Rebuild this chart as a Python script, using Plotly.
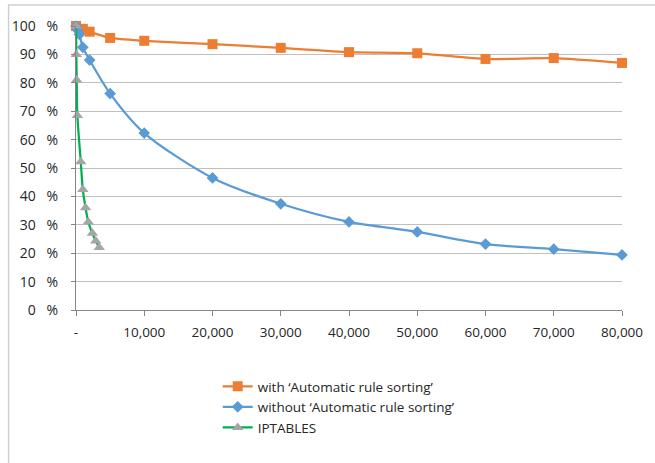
import plotly.graph_objects as go

# ---- data ----
with_x = [0, 1000, 2000, 5000, 10000, 20000, 30000, 40000, 50000, 60000, 70000, 80000]
with_y = [100, 99, 98, 95.8, 94.8, 93.6, 92.3, 90.8, 90.4, 88.4, 88.7, 87.0]

without_x = [0, 250, 500, 1000, 2000, 5000, 10000, 20000, 30000, 40000, 50000, 60000, 70000, 80000]
without_y = [100, 98.5, 97, 92.5, 88, 76.2, 62.3, 46.5, 37.4, 31, 27.5, 23.2, 21.4, 19.4]

ipt_x = [0, 50, 100, 200, 700, 1000, 1400, 1800, 2400, 2900, 3400]
ipt_y = [100, 90, 81, 68.5, 52.2, 42.4, 36, 31, 27, 24.3, 22]

y_ticks = [0, 10, 20, 30, 40, 50, 60, 70, 80, 90, 100]
x_ticks = [0, 10000, 20000, 30000, 40000, 50000, 60000, 70000, 80000]
x_tick_text = ["-", "10,000", "20,000", "30,000", "40,000", "50,000", "60,000", "70,000", "80,000"]

names = ["with \u2018Automatic rule sorting\u2019",
         "without \u2018Automatic rule sorting\u2019",
         "IPTABLES"]

FIG_SP = "\u2007"
y_tick_text = [f"{v:>3}".replace(" ", FIG_SP) + "\u00a0\u00a0\u00a0%" for v in y_ticks]

font = "Open Sans"
txt_col = "#262626"

fig = go.Figure()
fig.add_trace(go.Scatter(
    x=with_x, y=with_y, name=names[0], mode="lines+markers", legendgroup="a",
    line=dict(color="#ED7D31", width=2.25, shape="spline", smoothing=0.6),
    marker=dict(symbol="square", size=10, color="#ED7D31"), cliponaxis=False,
))
fig.add_trace(go.Scatter(
    x=without_x, y=without_y, name=names[1], mode="lines+markers", legendgroup="b",
    line=dict(color="#5B9BD5", width=2.25, shape="spline", smoothing=0.8),
    marker=dict(symbol="diamond", size=9, color="#5B9BD5"), cliponaxis=False,
))
fig.add_trace(go.Scatter(
    x=ipt_x, y=ipt_y, name=names[2], mode="lines+markers", legendgroup="c",
    line=dict(color="#00B050", width=2.25, shape="spline", smoothing=0.8),
    marker=dict(symbol="triangle-up", size=10, color="#A5A5A5"), cliponaxis=False,
))

fig.update_layout(
    width=655, height=463,
    margin=dict(l=75, r=29, t=26, b=153),
    paper_bgcolor="white", plot_bgcolor="white",
    font=dict(family=font, size=13.5, color=txt_col),
    showlegend=True,
    legend=dict(
        x=(218 - 75) / 551, xanchor="left",
        y=(310 - 371) / 284, yanchor="top",
        font=dict(family=font, size=13.5, color=txt_col),
        tracegroupgap=3, bgcolor="rgba(0,0,0,0)",
        traceorder="normal",
    ),
    xaxis=dict(
        range=[0, 80000], tickvals=x_ticks, ticktext=x_tick_text,
        showgrid=False, zeroline=False,
        showline=True, linecolor="#868686", linewidth=1,
        ticks="outside", ticklen=5, tickcolor="#868686",
        tickfont=dict(family=font, size=13.5, color=txt_col),
        ticklabelstandoff=5,
    ),
    yaxis=dict(
        range=[0, 100], tickvals=y_ticks, ticktext=y_tick_text,
        showgrid=True, gridcolor="#BFBFBF", gridwidth=1, zeroline=False,
        showline=True, linecolor="#868686", linewidth=1,
        ticks="outside", ticklen=4, tickcolor="#868686",
        tickfont=dict(family=font, size=14, color=txt_col),
        ticklabelstandoff=10,
    ),
    shapes=[dict(
        type="rect", xref="paper", yref="paper",
        x0=(7 - 75) / 551, x1=1.1, y0=-0.7, y1=(310 - 5) / 284,
        line=dict(color="#D0D0D0", width=1.5), layer="below",
    )],
)

fig.write_html("out.html")
